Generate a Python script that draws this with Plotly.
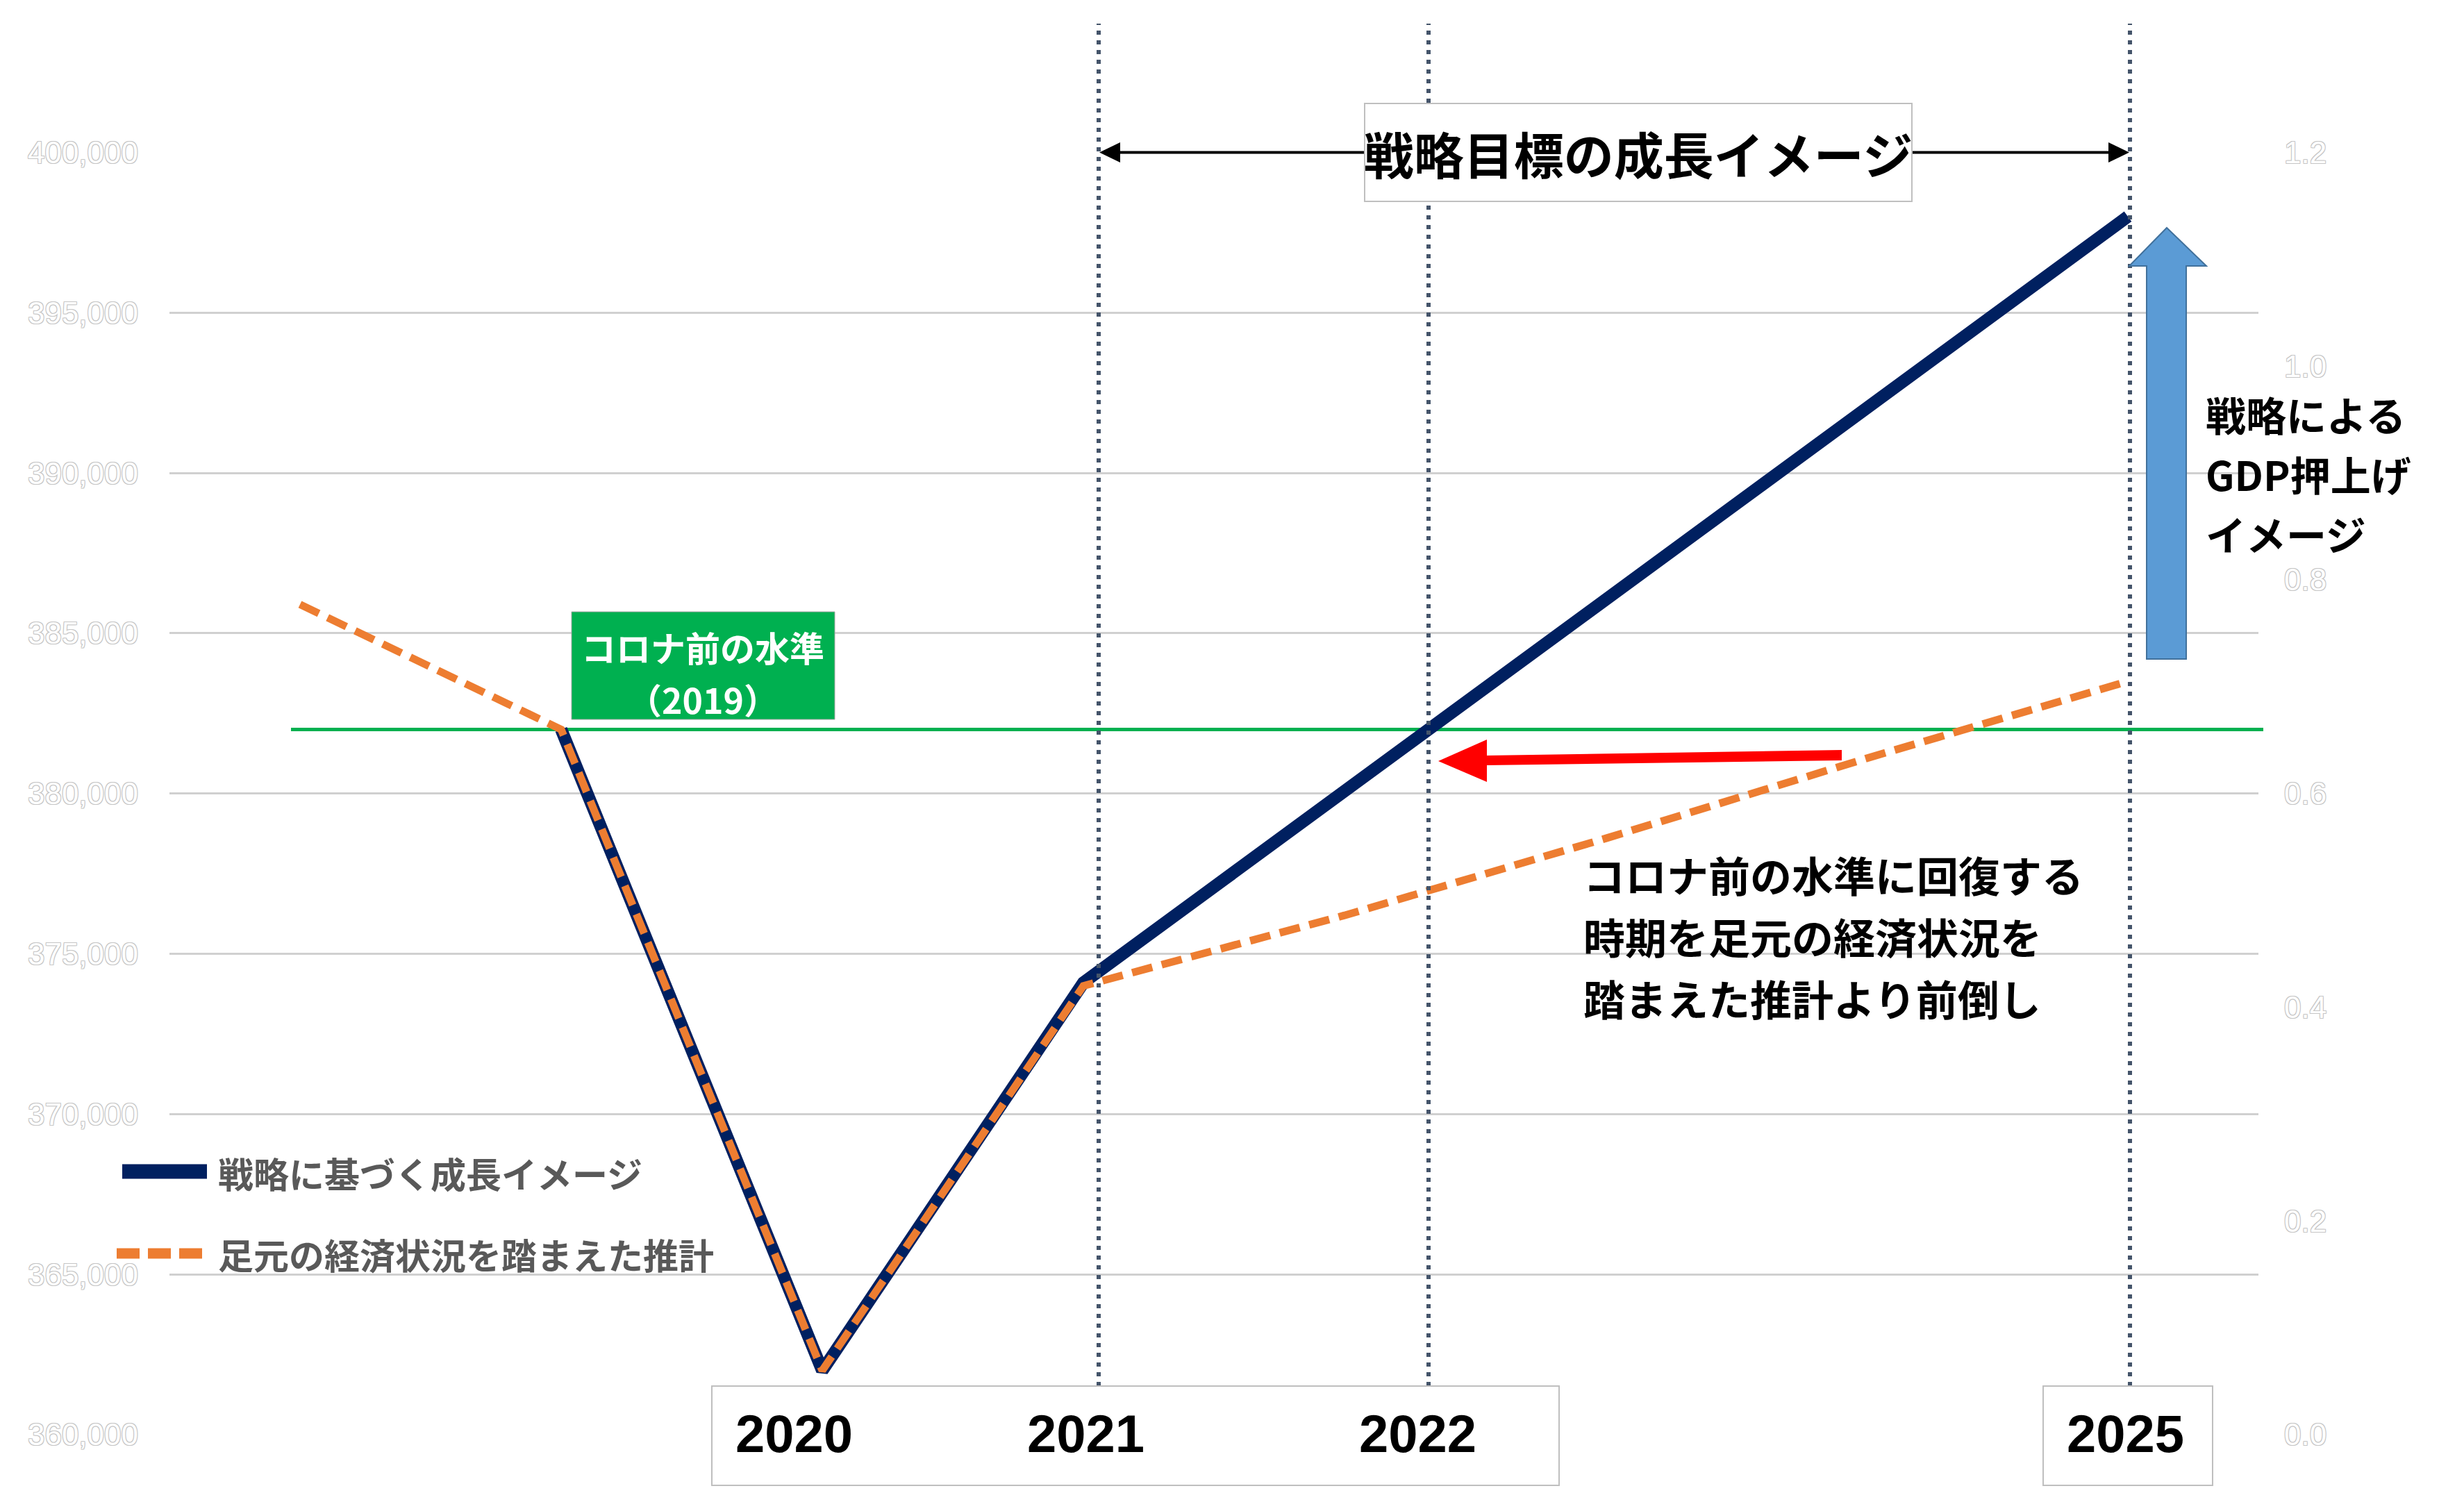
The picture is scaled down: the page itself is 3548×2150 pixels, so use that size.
import plotly.graph_objects as go

W, H = 3548, 2150

# ---------------- data ----------------
years = [2018, 2019, 2020, 2021, 2022, 2023, 2024, 2025]
strategy_gdp = [None, 382000, 362000, 374100, 380100, 386000, 392000, 398000]
outlook_gdp = [385900, 382000, 362000, 374000, 376200, 378600, 381100, 383500]
pre_covid_level = 382000
left_tickvals = [360000, 365000, 370000, 375000, 380000, 385000, 390000, 395000, 400000]
right_tickvals = [0.0, 0.2, 0.4, 0.6, 0.8, 1.0, 1.2]
series_names = ["戦略に基づく成長イメージ", "足元の経済状況を踏まえた推計"]
year_labels = ["2020", "2021", "2022", "2025"]
title_text = "戦略目標の成長イメージ"
precovid_label = ["コロナ前の水準", "（2019）"]
boost_label = ["戦略による", "GDP押上げ", "イメージ"]
note_label = ["コロナ前の水準に回復する", "時期を足元の経済状況を", "踏まえた推計より前倒し"]

# ---------------- styling helpers ----------------
def px(x):
    return x / W


def py(y):
    return 1 - y / H


JP = "Noto Sans CJK JP, sans-serif"
NUM = "Liberation Sans, Arial, sans-serif"
GHOST = ("1px 1px 0 #c4c4c4, -1px -1px 0 #c4c4c4, "
         "1px -1px 0 #c4c4c4, -1px 1px 0 #c4c4c4")
NAVY = "#002060"
ORANGE = "#ED7D31"
GREEN = "#00B050"
SLATE = "#44546A"

fig = go.Figure()
fig.add_trace(go.Scatter(
    x=years, y=strategy_gdp, name=series_names[0], mode="lines",
    line=dict(color=NAVY, width=18), hoverinfo="skip", showlegend=False))
fig.add_trace(go.Scatter(
    x=years, y=outlook_gdp, name=series_names[1], mode="lines",
    line=dict(color=ORANGE, width=11, dash="30px,14px"),
    hoverinfo="skip", showlegend=False))
# empty trace so that the secondary (right) axis is drawn
fig.add_trace(go.Scatter(x=[], y=[], yaxis="y2", mode="lines",
                         hoverinfo="skip", showlegend=False))

fig.update_layout(
    width=W, height=H, margin=dict(l=0, r=0, t=0, b=0, autoexpand=False),
    paper_bgcolor="white", plot_bgcolor="white", showlegend=False,
    xaxis=dict(domain=[px(244), px(3252)], range=[2017.5, 2025.5],
               showgrid=False, zeroline=False, showticklabels=False,
               showline=False, ticks="", automargin=False),
    yaxis=dict(domain=[py(2066), py(219.5)], range=[360000, 400000],
               tickvals=left_tickvals, tickformat=",",
               showgrid=True, gridcolor="#D0D0D0", gridwidth=3,
               zeroline=False, showline=False, ticks="", automargin=False,
               tickfont=dict(family=NUM, size=44, color="white", shadow=GHOST),
               ticklabelstandoff=44),
    yaxis2=dict(overlaying="y", side="right", anchor="x", range=[0, 1.2],
                tickvals=right_tickvals, tickformat=".1f",
                showgrid=False, zeroline=False, showline=False, ticks="",
                automargin=False,
                tickfont=dict(family=NUM, size=44, color="white", shadow=GHOST),
                ticklabelstandoff=36),
)

shapes = []
# pre-covid level line
shapes.append(dict(type="line", xref="paper", yref="y", x0=px(419), x1=px(3259),
                   y0=pre_covid_level, y1=pre_covid_level,
                   line=dict(color=GREEN, width=5), layer="between"))
# vertical dotted lines
for xv in [1582, 2057, 3067]:
    shapes.append(dict(type="line", xref="paper", yref="paper",
                       x0=px(xv), x1=px(xv), y0=py(1996), y1=py(34),
                       line=dict(color=SLATE, width=6, dash="6px,8px"),
                       layer="above"))
# top double arrow
shapes.append(dict(type="line", xref="paper", yref="paper",
                   x0=px(1600), x1=px(3050), y0=py(219.5), y1=py(219.5),
                   line=dict(color="black", width=4), layer="above"))
shapes.append(dict(type="path", xref="paper", yref="paper",
                   path=f"M{px(1583)},{py(219.5)} L{px(1613)},{py(205)} L{px(1613)},{py(234)} Z",
                   fillcolor="black", line=dict(width=0), layer="above"))
shapes.append(dict(type="path", xref="paper", yref="paper",
                   path=f"M{px(3066)},{py(219.5)} L{px(3036)},{py(205)} L{px(3036)},{py(234)} Z",
                   fillcolor="black", line=dict(width=0), layer="above"))
# bottom year boxes
for x0, x1 in [(1025, 2245), (2942, 3186)]:
    shapes.append(dict(type="rect", xref="paper", yref="paper",
                       x0=px(x0), x1=px(x1), y0=py(2139), y1=py(1996),
                       fillcolor="white", line=dict(color="#BFBFBF", width=2),
                       layer="above"))
# green pre-covid label box
shapes.append(dict(type="rect", xref="paper", yref="paper",
                   x0=px(823), x1=px(1202), y0=py(1036), y1=py(881),
                   fillcolor=GREEN, line=dict(color="#A6A6A6", width=1),
                   layer="above"))
# red arrow
red_pts = [(2071, 1096), (2141, 1065), (2141, 1088), (2652, 1080),
           (2652, 1095), (2141, 1102), (2141, 1126)]
shapes.append(dict(type="path", xref="paper", yref="paper",
                   path="M" + " L".join(f"{px(a)},{py(b)}" for a, b in red_pts) + " Z",
                   fillcolor="#FF0000", line=dict(width=0), layer="above"))
# blue block arrow
blue_pts = [(3120, 328), (3177, 383), (3148, 383), (3148, 949),
            (3091, 949), (3091, 383), (3066, 383)]
shapes.append(dict(type="path", xref="paper", yref="paper",
                   path="M" + " L".join(f"{px(a)},{py(b)}" for a, b in blue_pts) + " Z",
                   fillcolor="#5B9BD5", line=dict(color="#41719C", width=2),
                   layer="above"))
# legend samples
shapes.append(dict(type="line", xref="paper", yref="paper",
                   x0=px(176), x1=px(298), y0=py(1687), y1=py(1687),
                   line=dict(color=NAVY, width=21), layer="above"))
shapes.append(dict(type="line", xref="paper", yref="paper",
                   x0=px(168), x1=px(297), y0=py(1805), y1=py(1805),
                   line=dict(color=ORANGE, width=15, dash="33px,12px"),
                   layer="above"))
fig.update_layout(shapes=shapes)

ann = []


def text(t, x, y, size, color="black", xanchor="center", family=JP, weight=700):
    ann.append(dict(text=t, xref="paper", yref="paper", x=px(x), y=py(y),
                    xanchor=xanchor, yanchor="middle", showarrow=False,
                    borderpad=0,
                    font=dict(family=family, size=size, color=color, weight=weight)))


# title box
ann.append(dict(text=title_text, xref="paper", yref="paper", x=px(2359), y=py(219.5),
                xanchor="center", yanchor="middle", showarrow=False,
                width=786, height=139, bgcolor="white", bordercolor="#BFBFBF",
                borderwidth=2, borderpad=0,
                font=dict(family=JP, size=72, color="black", weight=700)))
# years
for lbl, xc in zip(year_labels, [1143, 1563, 2041, 3060]):
    text(lbl, xc, 2064, 76, family=NUM)
# green box label (one annotation per line)
for t, yc in zip(precovid_label, [931, 1006]):
    text(t, 1012, yc, 50, color="white")
# boost label
for t, yc in zip(boost_label, [596, 682, 768]):
    text(t, 3175, yc, 58, xanchor="left")
# note label
for t, yc in zip(note_label, [1258, 1347, 1436]):
    text(t, 2279, yc, 60, xanchor="left")
# legend texts
text(series_names[0], 313, 1689, 51, color="#595959", xanchor="left")
text(series_names[1], 313, 1806, 51, color="#595959", xanchor="left")

fig.update_layout(annotations=ann)

fig.write_html("out.html")
